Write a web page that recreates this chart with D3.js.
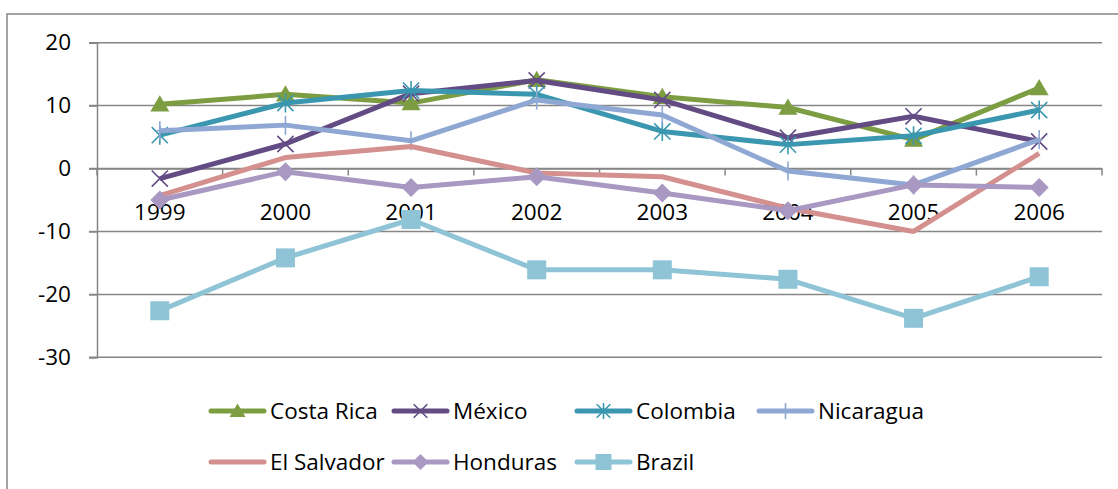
<!DOCTYPE html>
<html>
<head>
<meta charset="utf-8">
<script src="https://cdn.jsdelivr.net/npm/d3@7"></script>
<style>
  body { margin: 0; background: #fff; }
  text { font-family: "Open Sans", sans-serif; fill: #000; }
</style>
</head>
<body>
<div id="chart"></div>
<script>
var years = ["1999", "2000", "2001", "2002", "2003", "2004", "2005", "2006"];
var yTicks = [20, 10, 0, -10, -20, -30];

var costaRica  = [10.2, 11.8, 10.4, 14.1, 11.4, 9.7, 4.6, 12.8];
var mexico     = [-1.6, 3.9, 11.9, 14.0, 10.9, 4.9, 8.3, 4.3];
var colombia   = [5.3, 10.4, 12.4, 11.8, 5.9, 3.8, 5.2, 9.3];
var nicaragua  = [6.0, 6.9, 4.4, 10.9, 8.5, -0.4, -2.6, 4.6];
var elSalvador = [-4.3, 1.75, 3.5, -0.7, -1.3, -6.3, -10.0, 2.4];
var honduras   = [-5.0, -0.5, -3.0, -1.3, -3.9, -6.7, -2.6, -3.0];
var brazil     = [-22.6, -14.2, -8.1, -16.1, -16.1, -17.6, -23.8, -17.2];

var seriesNames = ["Costa Rica", "México", "Colombia", "Nicaragua", "El Salvador", "Honduras", "Brazil"];
var seriesValues = [costaRica, mexico, colombia, nicaragua, elSalvador, honduras, brazil];
var seriesColors = ["#7C9D41", "#634C84", "#3A97AF", "#8EA8D3", "#D4908E", "#A898C2", "#8FC4D6"];
var seriesMarkers = ["triangle", "x", "asterisk", "plus", "none", "diamond", "square"];

var widthsvg = 1118;
var heightsvg = 489;

var svg = d3.select("#chart")
    .append("svg")
    .attr("width", widthsvg)
    .attr("height", heightsvg);

// outer chart border
svg.append("rect")
    .attr("x", 7).attr("y", 14)
    .attr("width", 1130).attr("height", 500)
    .attr("fill", "none")
    .attr("stroke", "#868686")
    .attr("stroke-width", 1.5);

var x = d3.scaleBand().domain(years).range([97, 1102]).padding(0);
var y = d3.scaleLinear().domain([-30, 20]).range([357.3, 42.7]);
var cx = function(d, i) { return x(years[i]) + x.bandwidth() / 2; };

// gridlines
svg.append("g")
    .selectAll("line")
    .data(yTicks)
    .enter()
    .append("line")
    .attr("x1", 89).attr("x2", 1102)
    .attr("y1", d => y(d)).attr("y2", d => y(d))
    .attr("stroke", "#868686")
    .attr("stroke-width", 1.5);

// y axis
var axisleft = d3.axisLeft(y)
    .tickValues(yTicks)
    .tickFormat(d => String(d))
    .tickSize(8)
    .tickPadding(18);

var gy = svg.append("g")
    .attr("transform", "translate(97,0)")
    .call(axisleft);
gy.selectAll("path, line").attr("stroke", "#868686").attr("stroke-width", 1.5);
gy.selectAll("text")
    .style("font-family", "'Open Sans', sans-serif")
    .style("font-size", "22.5px")
    .attr("fill", "#000");

// x axis (categories), sits on the zero line
var axisbottom = d3.axisBottom(x).tickSize(0).tickPadding(0);
var gx = svg.append("g")
    .attr("transform", `translate(0, ${y(0)})`)
    .call(axisbottom);
gx.select(".domain").attr("stroke", "#868686").attr("stroke-width", 1.5);
gx.selectAll("text")
    .attr("y", 51)
    .attr("dy", 0)
    .style("font-family", "'Open Sans', sans-serif")
    .style("font-size", "22.5px")
    .attr("fill", "#000");

// category boundary ticks
var bounds = years.map(d => x(d)).concat([x(years[years.length - 1]) + x.bandwidth()]);
svg.append("g")
    .selectAll("line")
    .data(bounds)
    .enter()
    .append("line")
    .attr("x1", d => d).attr("x2", d => d)
    .attr("y1", y(0)).attr("y2", y(0) + 7)
    .attr("stroke", "#868686")
    .attr("stroke-width", 1.5);

// marker drawing
function drawMarker(g, type, color, size) {
    var h = size / 2;
    if (type === "triangle") {
        g.append("path")
            .attr("d", `M0,${-h * 0.95} L${h},${h * 0.75} L${-h},${h * 0.75} Z`)
            .attr("fill", color);
    } else if (type === "diamond") {
        g.append("path")
            .attr("d", `M0,${-h} L${h},0 L0,${h} L${-h},0 Z`)
            .attr("fill", color);
    } else if (type === "square") {
        g.append("rect")
            .attr("x", -h).attr("y", -h)
            .attr("width", size).attr("height", size)
            .attr("fill", color);
    } else if (type === "x" || type === "asterisk") {
        var k = h * 0.85;
        g.append("path")
            .attr("d", `M${-k},${-k} L${k},${k} M${-k},${k} L${k},${-k}` + (type === "asterisk" ? ` M0,${-h} L0,${h}` : ""))
            .attr("stroke", color)
            .attr("stroke-width", 1.6)
            .attr("fill", "none");
    } else if (type === "plus") {
        g.append("path")
            .attr("d", `M0,${-h} L0,${h} M${-h * 0.35},0 L${h * 0.35},0`)
            .attr("stroke", color)
            .attr("stroke-width", 1.6)
            .attr("fill", "none");
    }
}

var line = d3.line()
    .x(cx)
    .y(d => y(d));

seriesValues.forEach(function(vals, s) {
    var g = svg.append("g");
    g.append("path")
        .datum(vals)
        .attr("d", line)
        .attr("fill", "none")
        .attr("stroke", seriesColors[s])
        .attr("stroke-width", 5)
        .attr("stroke-linejoin", "round");
    vals.forEach(function(v, i) {
        var m = g.append("g").attr("transform", `translate(${cx(v, i)},${y(v)})`);
        drawMarker(m, seriesMarkers[s], seriesColors[s], 19);
    });
});

// legend
var legendPos = [
    [211, 411], [394, 411], [577, 411], [759, 411],
    [211, 462], [394, 462], [577, 462]
];

var legend = svg.append("g");
seriesNames.forEach(function(name, s) {
    var p = legendPos[s];
    var g = legend.append("g").attr("transform", `translate(${p[0]},${p[1]})`);
    g.append("line")
        .attr("x1", 0).attr("x2", 53)
        .attr("y1", 0).attr("y2", 0)
        .attr("stroke", seriesColors[s])
        .attr("stroke-width", 5)
        .attr("stroke-linecap", "round");
    var m = g.append("g").attr("transform", "translate(26.5,0)");
    drawMarker(m, seriesMarkers[s], seriesColors[s], 16);
    g.append("text")
        .attr("x", 59)
        .attr("y", 8)
        .style("font-size", "22.5px")
        .text(name);
});
</script>
</body>
</html>
